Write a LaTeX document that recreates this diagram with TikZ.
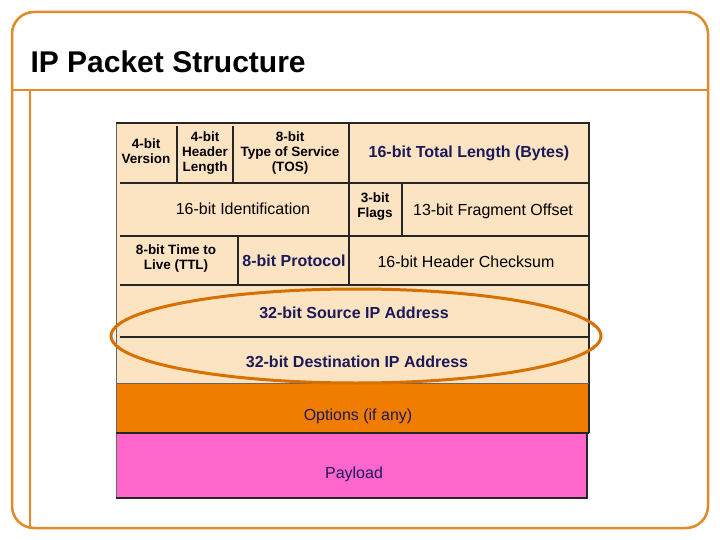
\documentclass[tikz,border=0pt]{standalone}
\usepackage{fontspec}
\setmainfont{Liberation Sans}
\definecolor{frame}{HTML}{E08A2A}
\definecolor{beige}{HTML}{FCE3C2}
\definecolor{opt}{HTML}{F07C00}
\definecolor{pay}{HTML}{FF66CC}
\definecolor{navy}{HTML}{1A1A5A}
\begin{document}
\begin{tikzpicture}[x=1pt,y=-1pt,
  sep/.style={line width=2pt, black!85},
  sm/.style={font=\fontsize{13.5}{15}\selectfont\bfseries, align=center},
  md/.style={font=\fontsize{16}{18}\selectfont, align=center},
  bd/.style={navy, font=\fontsize{16}{18}\selectfont\bfseries, align=center}]
\useasboundingbox (0,0) rectangle (720,540);
% frame
\draw[frame, line width=2.5pt, rounded corners=22pt] (12,12) rectangle (708,528);
\draw[frame, line width=2.5pt] (12,90) -- (708,90);
\draw[frame, line width=2.5pt] (30,90) -- (30,528);
\node[anchor=west, font=\fontsize{30}{32}\selectfont\bfseries] (title) at (27,62) {IP Packet Structure};
% rows
\fill[beige] (116,123) rectangle (589,383);
\fill[opt] (116,383) rectangle (589,433);
\fill[pay] (116,433) rectangle (587,498);
\draw[black!60, line width=1pt] (116,123) -- (116,498);
\draw[sep] (116,123) -- (589,123) -- (589,433);
\draw[sep] (587,433) -- (587,498) -- (116,498);
\draw[sep] (116,433) -- (589,433);
\draw[sep] (120,183) -- (589,183);
\draw[sep] (120,236) -- (589,236);
\draw[sep] (120,285) -- (589,285);
\draw[sep] (120,337) -- (589,337);
\draw[black!60, line width=1pt] (116,383) -- (589,383);
\draw[sep] (177,126) -- (177,183);
\draw[sep] (233,126) -- (233,183);
\draw[sep] (349,123) -- (349,285);
\draw[sep] (402,183) -- (402,236);
\draw[sep] (238,236) -- (238,285);
% texts
\node[sm] (ver) at (146,151) {4-bit\\Version};
\node[sm] (hl) at (205,153) {4-bit\\Header\\Length};
\node[sm] (tos) at (290,153) {8-bit\\Type of Service\\(TOS)};
\node[bd] (tl) at (469,153) {16-bit Total Length (Bytes)};
\node[md] (id) at (243,209) {16-bit Identification};
\node[sm] (fl) at (375,207) {3-bit\\Flags};
\node[md] (fo) at (493,211) {13-bit Fragment Offset};
\node[sm] (ttl) at (176,259) {8-bit Time to\\Live (TTL)};
\node[bd] (pr) at (294,261) {8-bit Protocol};
\node[md] (hc) at (466,262) {16-bit Header Checksum};
\node[bd] (src) at (354,313) {32-bit Source IP Address};
\node[bd] (dst) at (357,362) {32-bit Destination IP Address};
\node[md, navy] (op) at (358,416) {Options (if any)};
\node[md, navy] (pl) at (354,474) {Payload};
% ellipse
\draw[opt!90!black, line width=3pt] (356,336) ellipse [x radius=245, y radius=47];
\end{tikzpicture}
\end{document}
